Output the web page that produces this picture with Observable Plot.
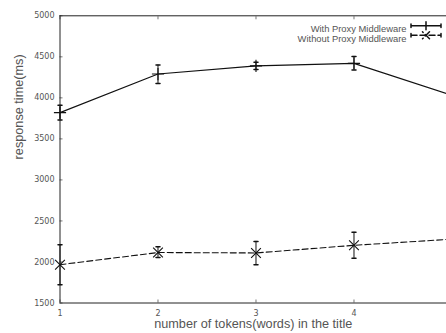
<!DOCTYPE html>
<html><head><meta charset="utf-8">
<script src="https://cdn.jsdelivr.net/npm/d3@7"></script>
<script src="https://cdn.jsdelivr.net/npm/@observablehq/plot@0.6"></script>
<style>
html,body{margin:0;padding:0;background:#fff;}
</style>
</head><body>
<div id="chart"></div>
<script>
const tokens = [1, 2, 3, 4, 5];
const withProxy = [3820, 4290, 4390, 4420, 4030];
const withProxyLo = [3730, 4175, 4345, 4340, null];
const withProxyHi = [3910, 4400, 4435, 4505, null];
const withoutProxy = [1967, 2115, 2110, 2203, 2278];
const withoutProxyLo = [1723, 2056, 1967, 2044, null];
const withoutProxyHi = [2211, 2187, 2251, 2362, null];
const yTicks = [1500, 2000, 2500, 3000, 3500, 4000, 4500, 5000];
const xTicks = [1, 2, 3, 4];
const seriesNames = ["With Proxy Middleware", "Without Proxy Middleware"];

const a = tokens.map((t, i) => ({x: t, y: withProxy[i], lo: withProxyLo[i], hi: withProxyHi[i]}));
const b = tokens.map((t, i) => ({x: t, y: withoutProxy[i], lo: withoutProxyLo[i], hi: withoutProxyHi[i]}));
const aErr = a.filter(d => d.lo != null);
const bErr = b.filter(d => d.lo != null);

const capShape = {draw(ctx, l) { ctx.moveTo(0, 0); ctx.lineTo(0, -l); }};
const legendShape = (mk) => ({draw(ctx, l) {
  ctx.moveTo(0, 0); ctx.lineTo(0, -l);
  ctx.moveTo(-1.8, 0); ctx.lineTo(1.8, 0);
  ctx.moveTo(-1.8, -l); ctx.lineTo(1.8, -l);
  const m = -l / 2;
  if (mk === "plus") { ctx.moveTo(-4, m); ctx.lineTo(4, m); }
  else { ctx.moveTo(-3.5, m - 3.5); ctx.lineTo(3.5, m + 3.5); ctx.moveTo(3.5, m - 3.5); ctx.lineTo(-3.5, m + 3.5); }
}});

const font = "'DejaVu Sans', sans-serif";
const labelFont = "'Liberation Sans', Arial, sans-serif";

const chart = Plot.plot({
  width: 446,
  height: 333,
  marginLeft: 59.5,
  marginRight: 0,
  marginTop: 15.3,
  marginBottom: 30.5,
  style: {fontFamily: font, background: "#fff", overflow: "hidden"},
  x: {domain: [1, 4.944], label: null},
  y: {domain: [1500, 5000], label: null},
  marks: [
    Plot.axisY(yTicks, {tickSize: -3, tickPadding: 8.5, stroke: "#777", fill: "#555", fontSize: 8, tickFormat: d => String(d)}),
    Plot.axisX(xTicks, {tickSize: -3, tickPadding: 10, stroke: "#777", fill: "#555", fontSize: 8, tickFormat: d => String(d)}),
    Plot.axisX(xTicks, {anchor: "top", tickSize: -3, stroke: "#777", tickFormat: () => ""}),
    Plot.text(["response time(ms)"], {frameAnchor: "left", dx: -41, rotate: -90, fontSize: 12.7, fill: "#555", fontFamily: labelFont}),
    Plot.text(["number of tokens(words) in the title"], {frameAnchor: "bottom", dy: 24.5, fontSize: 12.7, fill: "#555", fontFamily: labelFont}),
    Plot.ruleY([5000], {stroke: "#222"}),
    Plot.ruleY([1500], {stroke: "#222"}),
    Plot.ruleX([1], {stroke: "#222"}),
    Plot.line(a, {x: "x", y: "y", stroke: "#111", strokeWidth: 1.1, clip: true}),
    Plot.line(b, {x: "x", y: "y", stroke: "#111", strokeWidth: 1.1, strokeDasharray: "6,3", clip: true}),
    Plot.ruleX(aErr, {x: "x", y1: "lo", y2: "hi", stroke: "#111"}),
    Plot.ruleX(bErr, {x: "x", y1: "lo", y2: "hi", stroke: "#111"}),
    Plot.vector(aErr, {x: "x", y: "lo", length: 4, rotate: 90, anchor: "middle", shape: capShape, stroke: "#111"}),
    Plot.vector(aErr, {x: "x", y: "hi", length: 4, rotate: 90, anchor: "middle", shape: capShape, stroke: "#111"}),
    Plot.vector(bErr, {x: "x", y: "lo", length: 4, rotate: 90, anchor: "middle", shape: capShape, stroke: "#111"}),
    Plot.vector(bErr, {x: "x", y: "hi", length: 4, rotate: 90, anchor: "middle", shape: capShape, stroke: "#111"}),
    Plot.dot(aErr, {x: "x", y: "y", symbol: "plus", r: 4, stroke: "#111", strokeWidth: 1.1}),
    Plot.dot(bErr, {x: "x", y: "y", symbol: "times", r: 4.5, stroke: "#111", strokeWidth: 1.1}),
    Plot.text([seriesNames[0]], {frameAnchor: "top-right", dx: -40, dy: 9.7, textAnchor: "end", fontSize: 9.4, fill: "#555", fontFamily: labelFont}),
    Plot.text([seriesNames[1]], {frameAnchor: "top-right", dx: -40, dy: 19.3, textAnchor: "end", fontSize: 9.4, fill: "#555", fontFamily: labelFont}),
    Plot.vector([0], {frameAnchor: "top-right", dx: -20.5, dy: 10, length: 30, rotate: 90, anchor: "middle", shape: legendShape("plus"), stroke: "#111"}),
    Plot.vector([0], {frameAnchor: "top-right", dx: -20.5, dy: 19.5, length: 30, rotate: 90, anchor: "middle", shape: legendShape("times"), stroke: "#111", strokeDasharray: "6,3"})
  ]
});
document.getElementById("chart").appendChild(chart);
</script>
</body></html>
